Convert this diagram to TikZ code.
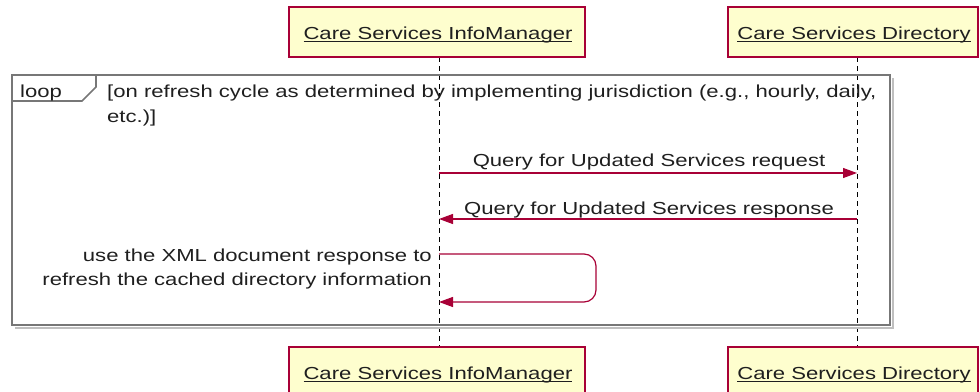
\documentclass[tikz,border=0pt]{standalone}
\usepackage{fontspec}
\setmainfont[FakeStretch=1.27]{Liberation Sans}
\usetikzlibrary{arrows.meta}
\definecolor{pred}{HTML}{A80036}
\definecolor{pfill}{HTML}{FEFECE}
\definecolor{fgray}{HTML}{777777}
\newcommand\ulname[1]{\setbox0\hbox{#1}\rlap{\rule[-2.6pt]{\wd0}{1.1pt}}\box0}
\tikzset{
  x=1pt,y=-1pt,
  every node/.style={font=\fontsize{17.4}{23}\selectfont, text=black!88, inner sep=0pt},
  partbox/.style={draw=pred, fill=pfill, line width=1.4pt},
  lifeline/.style={draw=black, line width=1pt, dash pattern=on 5pt off 4pt},
  msg/.style={draw=pred, line width=1.2pt, -{Triangle[length=14pt,width=10pt]}},
  framebox/.style={draw=fgray, line width=1.6pt},
  shadowline/.style={draw=black!25, line width=2pt},
}
\begin{document}
\begin{tikzpicture}
\useasboundingbox (0,0) rectangle (980,391);
% lifelines
\coordinate (imtop) at (439,57);
\coordinate (imbot) at (439,347);
\coordinate (dirtop) at (857,57);
\coordinate (dirbot) at (857,347);
\draw[lifeline] (imtop) -- (imbot);
\draw[lifeline] (dirtop) -- (dirbot);
% loop frame
\draw[shadowline] (15,328) -- (893,328) -- (893,78);
\draw[framebox] (12,75) rectangle (890,325);
\draw[framebox] (12,101) -- (82,101) -- (96,87) -- (96,75);
\node[anchor=base west] (looplbl) at (20,97) {loop};
\node[anchor=base west] (guard1) at (107,97) {[on refresh cycle as determined by implementing jurisdiction (e.g., hourly, daily,};
\node[anchor=base west] (guard2) at (107,122) {etc.)]};
% participants top
\draw[partbox] (289,7) rectangle (585,57);
\node[anchor=base] (imT) at (438,39) {\ulname{Care Services InfoManager}};
\draw[partbox] (728,7) rectangle (978,57);
\node[anchor=base] (dirT) at (854,39) {\ulname{Care Services Directory}};
% participants bottom
\draw[partbox] (289,347) rectangle (585,397);
\node[anchor=base] (imB) at (438,379) {\ulname{Care Services InfoManager}};
\draw[partbox] (728,347) rectangle (978,397);
\node[anchor=base] (dirB) at (854,379) {\ulname{Care Services Directory}};
% messages
\coordinate (m1a) at (439,173);
\coordinate (m1b) at (857,173);
\draw[msg] (m1a) -- (m1b);
\node[anchor=base] (m1l) at (649,166) {Query for Updated Services request};
\coordinate (m2a) at (857,219);
\coordinate (m2b) at (439,219);
\draw[msg] (m2a) -- (m2b);
\node[anchor=base] (m2l) at (649,214) {Query for Updated Services response};
% self message
\coordinate (s1) at (439,254);
\coordinate (s2) at (596,254);
\coordinate (s3) at (596,302);
\coordinate (s4) at (439,302);
\draw[msg, rounded corners=12pt] (s1) -- (s2) -- (s3) -- (s4);
\node[anchor=base east, align=right] (sl1) at (432,261) {use the XML document response to};
\node[anchor=base east, align=right] (sl2) at (432,285) {refresh the cached directory information};
\end{tikzpicture}
\end{document}
